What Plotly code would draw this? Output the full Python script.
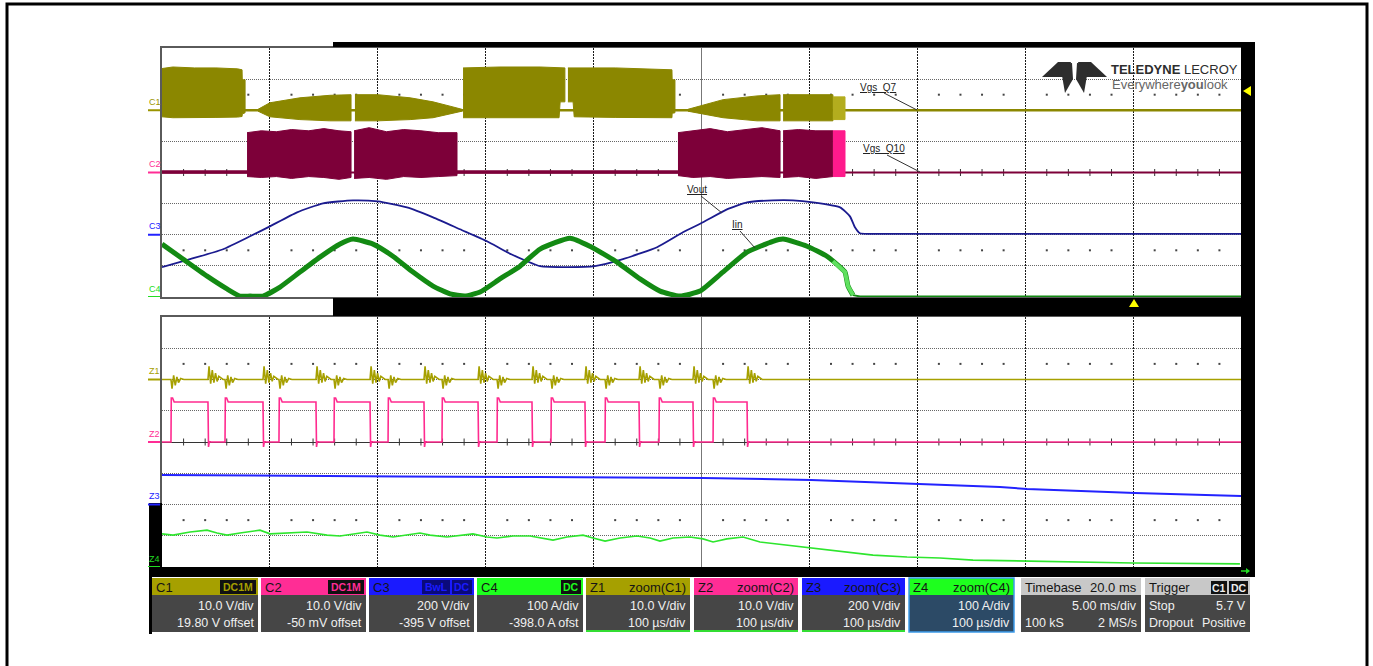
import plotly.graph_objects as go

W, H = 1373, 666
FONT = "Liberation Sans"

# ======================= DATA =======================
# ---- acquisition grid: 5 ms/div, x in ms (0..50) ----
ch_scale = {"C1": 10.0, "C2": 10.0, "C3": 200.0, "C4": 100.0}
ch_pos = {"C1": 2.0, "C2": 0.0, "C3": -2.0, "C4": -4.0}

# C1 = Vgs_Q7 [V]: envelope of the PWM bursts (None separates bursts)
c1_env_t = [0.0, 0.5, 1.5, 2.5, 3.5, 3.71, 3.72, 3.85, None,
            4.45, 5.0, 6.39, 7.78, 8.76, None,
            8.94, 10.0, 11.5, 12.56, 13.35, 13.9, None,
            13.95, 15.66, 17.52, 18.4, 18.45, 18.67, None,
            18.81, 19.05, 19.1, 21.0, 23.63, 23.64, 23.77, None,
            24.37, 26.0, 27.57, 28.64, None,
            28.78, 30.0, 31.09]
c1_env_top = [13.4, 13.9, 13.6, 13.6, 13.3, 13.0, 9.8, 9.8, None,
              0.3, 2.4, 4.0, 4.8, 5.0, None,
              5.0, 5.0, 4.0, 2.7, 1.3, 0.3, None,
              13.6, 13.9, 13.9, 13.8, 13.8, 13.6, None,
              13.6, 13.6, 13.6, 13.6, 13.0, 9.8, 9.8, None,
              0.3, 3.4, 4.6, 5.0, None,
              5.0, 5.0, 5.0]
c1_env_bot = [-2.1, -2.4, -2.4, -2.3, -2.2, -2.0, -1.2, -0.8, None,
              -0.3, -2.1, -3.0, -3.4, -3.4, None,
              -3.4, -3.4, -3.0, -2.4, -1.2, -0.3, None,
              -2.4, -2.4, -2.4, -2.4, 2.7, 2.7, None,
              2.7, 2.7, -2.1, -2.3, -2.4, -1.0, -0.8, None,
              -0.3, -2.4, -3.4, -3.4, None,
              -3.4, -3.4, -3.4]
c1_flash_t = [31.09, 31.65]
c1_flash_top = [4.3, 4.3]
c1_flash_bot = [-3.0, -3.0]
c1_base_t = [0.0, 50.0]
c1_base_v = [0.0, 0.0]

# C2 = Vgs_Q10 [V]
c2_env_t = [3.94, 4.6, 5.3, 6.0, 6.8, 7.5, 8.2, 8.76, None,
            8.9, 9.6, 10.4, 11.2, 12.0, 12.8, 13.67, None,
            23.91, 24.6, 25.4, 26.2, 27.0, 27.8, 28.64, None,
            28.78, 29.5, 30.3, 31.09]
c2_env_top = [12.8, 13.4, 13.1, 13.8, 13.4, 14.1, 13.4, 13.1, None,
              13.4, 14.4, 13.1, 13.8, 13.4, 12.8, 12.8, None,
              12.8, 13.4, 14.1, 13.1, 13.8, 14.4, 13.4, None,
              13.4, 13.8, 13.4, 13.4]
c2_env_bot = [-1.3, -1.6, -1.3, -1.9, -1.3, -1.6, -2.2, -1.6, None,
              -1.9, -1.6, -2.2, -1.3, -1.6, -1.3, -1.0, None,
              -1.0, -1.6, -1.3, -1.9, -1.6, -1.3, -1.6, None,
              -1.6, -1.3, -1.9, -1.3]
c2_flash_t = [31.09, 31.65]
c2_flash_top = [13.4, 13.4]
c2_flash_bot = [-1.3, -1.3]
c2_noise_t = [0.0, 3.94, None, 13.67, 23.91]
c2_noise_v = [0.2, 0.2, None, 0.2, 0.2]
c2_base_t = [0.0, 50.0]
c2_base_v = [0.0, 0.0]

# C3 = Vout [V]
c3_t = [0, 1.30, 2.83, 4.08, 5.00, 6.26, 7.46, 8.85, 10.01, 11.35, 12.56, 13.81,
        15.06, 15.99, 16.91, 17.52, 18.81, 20.06, 21.36, 22.94, 24.14, 25.07,
        26.18, 27.11, 28.31, 29.24, 30.17, 31.42, 31.88, 32.11, 32.34, 32.81, 50]
c3_v = [-208, -157, -93, -10, 54, 144, 202, 221, 214, 176, 112, 35,
        -42, -112, -170, -202, -208, -202, -157, -80, 16, 80,
        163, 208, 221, 221, 208, 176, 118, 48, 10, 6, 6]

# C4 = Iin [A] (thick while converter runs, thin once it stops)
c4_t = [0, 0.97, 2.09, 3.01, 3.61, 4.08, 4.68, 5.47, 6.39, 7.32, 8.25, 8.85,
        9.78, 10.70, 11.63, 12.56, 13.35, 14.04, 14.74, 15.66, 16.59, 17.52,
        18.91, 19.83, 21.08, 22.15, 23.08, 24.00, 24.93, 25.99, 27.11, 28.31,
        28.78, 29.89, 30.81, 31.42, 31.65, 31.79, 32.02]
c4_v = [170, 122, 67, 26, 3, 3, 3, 32, 80, 128, 170, 186,
        170, 131, 80, 35, 10, 3, 16, 58, 99, 154,
        189, 163, 112, 58, 19, 3, 19, 80, 144, 179,
        186, 163, 131, 96, 80, 35, 6]
c4_flash_t = [31.09, 31.42, 31.65, 31.79, 32.02]
c4_flash_v = [115, 96, 80, 35, 6]
c4_off_t = [32.02, 32.34, 50]
c4_off_v = [6, 2, 2]

# ---- zoom grid: 100 us/div, x in us (0..1000) ----
zm_scale = {"Z1": 10.0, "Z2": 10.0, "Z3": 200.0, "Z4": 100.0}
zm_pos = {"Z1": 2.0, "Z2": 0.0, "Z3": -2.0, "Z4": -4.0}

# Z2: gate pulses (edges in us) and levels in V
z2_rise_us = [8.3, 58.4, 108.4, 159.4, 209.5, 259.5, 310.5, 360.5, 410.6, 460.6, 510.7]
z2_fall_us = [42.6, 93.6, 142.7, 192.8, 242.8, 292.9, 342.9, 392.0, 442.1, 492.1, 542.2]
z2_high_v = 12.8
z2_overshoot_v = 14.1
z2_undershoot_v = -1.6

# Z1: ringing seen at each Z2 edge (offset in us, V)
z1_ring_rise_dt = [0, 1, 2.5, 4, 5.5, 7, 9, 12]
z1_ring_rise_v = [0, -2.9, 1.3, -1.9, 0.8, -1.0, 0.3, 0]
z1_ring_fall_dt = [0, 1, 2.5, 4, 5.5, 7, 8.5, 10, 14]
z1_ring_fall_v = [0, 4.2, -1.3, 3.0, -1.0, 2.0, -0.6, 1.0, 0]

# Z3 = Vout zoom [V]
z3_t = [0, 127.9, 220.6, 350.3, 501.4, 601.5, 684, 721, 776.6, 801.7, 850.8, 901.8, 1000]
z3_v = [189, 182, 179, 176, 170, 157, 138, 125, 112, 99, 86, 74, 54]

# Z4 = Iin zoom [A]
z4_t = [0, 10.2, 26, 41.7, 51, 60.2, 72.3, 90.8, 100.1, 118.6, 134.4, 152.9, 165, 190,
        202, 214.1, 239.1, 248.4, 264.1, 288.2, 301.2, 310.5, 325.3, 341.1, 350.3, 362.4,
        375.3, 390.2, 399.4, 410.6, 424.5, 440.2, 452.3, 461.5, 473.6, 489.3, 501.4, 510.7,
        523.6, 538.5, 554.2, 579.2, 600.6, 628.4, 659, 690.5, 721, 751.6, 801.7, 844.3,
        899.9, 999]
z4_v = [106, 102, 112, 118, 109, 102, 109, 118, 106, 109, 112, 102, 99, 112,
        102, 96, 109, 102, 96, 106, 96, 93, 99, 99, 93, 86,
        96, 102, 93, 83, 93, 99, 93, 83, 93, 96, 90, 80,
        90, 96, 80, 70, 61, 48, 38, 32, 29, 22, 19, 16,
        13, 10]

# ---- info panel text ----
panel_names = ["C1", "C2", "C3", "C4", "Z1", "Z2", "Z3", "Z4"]
panel_right = ["", "", "", "", "zoom(C1)", "zoom(C2)", "zoom(C3)", "zoom(C4)"]
panel_line1 = ["10.0 V/div", "10.0 V/div", "200 V/div", "100 A/div",
               "10.0 V/div", "10.0 V/div", "200 V/div", "100 A/div"]
panel_line2 = ["19.80 V offset", "-50 mV offset", "-395 V offset", "-398.0 A ofst",
               "100 µs/div", "100 µs/div", "100 µs/div", "100 µs/div"]
panel_badges = [["DC1M"], ["DC1M"], ["BwL", "DC"], ["DC"], [], [], [], []]
timebase_text = ["Timebase", "20.0 ms", "5.00 ms/div", "100 kS", "2 MS/s"]
trigger_text = ["Trigger", "Stop", "5.7 V", "Dropout", "Positive"]
trigger_badges = ["C1", "DC"]

# ======================= STYLE =======================
COL = {"C1": "#8b8700", "C2": "#7d0039", "C3": "#1b1b8f", "C4": "#138a13",
       "Z1": "#a6a000", "Z2": "#ff2b8f", "Z3": "#2323ff", "Z4": "#2ee62e"}
HEAD = {"C1": "#a6a000", "C2": "#ff2d95", "C3": "#1a1aff", "C4": "#1eff1e",
        "Z1": "#a6a000", "Z2": "#ff2d95", "Z3": "#1a1aff", "Z4": "#1eff1e"}
LABEL = {"C1": "#9a9400", "C2": "#ff2d95", "C3": "#2323ff", "C4": "#22dd22",
         "Z1": "#a6a000", "Z2": "#ff2d95", "Z3": "#2323ff", "Z4": "#22dd22"}


def to_div(vals, scale, pos):
    return [None if v is None else pos + v / scale for v in vals]


def polys(t, top, bot, scale, pos):
    xs, ys, seg = [], [], []
    segs = []
    for i, x in enumerate(t):
        if x is None:
            segs.append(seg)
            seg = []
        else:
            seg.append(i)
    segs.append(seg)
    for s in segs:
        st = [t[i] for i in s]
        xs += st + st[::-1] + [None]
        ys += to_div([top[i] for i in s] + [bot[i] for i in s][::-1], scale, pos) + [None]
    return xs, ys


fig = go.Figure()

# ---- decorative grid marks (sub-division dots and centre-line ticks) ----
top_minor = [i * 1.0 for i in range(1, 50) if i % 5]
bot_minor = [i * 20.0 for i in range(1, 50) if i % 5]
for xs, xa, ya in [(top_minor, "x", "y"), (bot_minor, "x2", "y2")]:
    fig.add_trace(go.Scatter(x=xs * 2, y=[2.5] * len(xs) + [-2.5] * len(xs), mode="markers",
                             marker=dict(symbol="square", size=2, color="#444"),
                             xaxis=xa, yaxis=ya, hoverinfo="skip"))
    fig.add_trace(go.Scatter(x=xs, y=[0] * len(xs), mode="markers",
                             marker=dict(symbol="line-ns", size=5, line=dict(width=1, color="#333")),
                             xaxis=xa, yaxis=ya, hoverinfo="skip"))

# ---- top grid traces ----
s, p = ch_scale["C2"], ch_pos["C2"]
fig.add_trace(go.Scatter(x=c2_base_t, y=to_div(c2_base_v, s, p), mode="lines",
                         line=dict(color=COL["C2"], width=2), hoverinfo="skip"))
fig.add_trace(go.Scatter(x=c2_noise_t, y=to_div(c2_noise_v, s, p), mode="lines",
                         line=dict(color=COL["C2"], width=3.5), hoverinfo="skip"))
x, y = polys(c2_env_t, c2_env_top, c2_env_bot, s, p)
fig.add_trace(go.Scatter(x=x, y=y, mode="lines", fill="toself", fillcolor=COL["C2"],
                         line=dict(color=COL["C2"], width=1), hoverinfo="skip"))
x, y = polys(c2_flash_t, c2_flash_top, c2_flash_bot, s, p)
fig.add_trace(go.Scatter(x=x, y=y, mode="lines", fill="toself", fillcolor="#ff1a8c",
                         line=dict(color="#ff1a8c", width=1), hoverinfo="skip"))

s, p = ch_scale["C1"], ch_pos["C1"]
fig.add_trace(go.Scatter(x=c1_base_t, y=to_div(c1_base_v, s, p), mode="lines",
                         line=dict(color=COL["C1"], width=2.5), hoverinfo="skip"))
x, y = polys(c1_env_t, c1_env_top, c1_env_bot, s, p)
fig.add_trace(go.Scatter(x=x, y=y, mode="lines", fill="toself", fillcolor=COL["C1"],
                         line=dict(color=COL["C1"], width=1), hoverinfo="skip"))
x, y = polys(c1_flash_t, c1_flash_top, c1_flash_bot, s, p)
fig.add_trace(go.Scatter(x=x, y=y, mode="lines", fill="toself", fillcolor="#b3ad1e",
                         line=dict(color="#b3ad1e", width=1), hoverinfo="skip"))

fig.add_trace(go.Scatter(x=c3_t, y=to_div(c3_v, ch_scale["C3"], ch_pos["C3"]), mode="lines",
                         line=dict(color=COL["C3"], width=1.8, shape="spline", smoothing=0.5),
                         hoverinfo="skip"))
fig.add_trace(go.Scatter(x=c4_off_t, y=to_div(c4_off_v, ch_scale["C4"], ch_pos["C4"]), mode="lines",
                         line=dict(color=COL["C4"], width=2), hoverinfo="skip"))
fig.add_trace(go.Scatter(x=c4_t, y=to_div(c4_v, ch_scale["C4"], ch_pos["C4"]), mode="lines",
                         line=dict(color=COL["C4"], width=5, shape="spline", smoothing=0.5),
                         hoverinfo="skip"))
fig.add_trace(go.Scatter(x=c4_flash_t, y=to_div(c4_flash_v, ch_scale["C4"], ch_pos["C4"]),
                         mode="lines", line=dict(color="#5fe05f", width=4), hoverinfo="skip"))

# ---- zoom grid traces ----
z1_t, z1_v = [0.0], [0.0]
events = sorted([(t, 0) for t in z2_rise_us] + [(t, 1) for t in z2_fall_us])
for t0, kind in events:
    dts, vs = (z1_ring_rise_dt, z1_ring_rise_v) if kind == 0 else (z1_ring_fall_dt, z1_ring_fall_v)
    for dt, v in zip(dts, vs):
        z1_t.append(t0 + dt)
        z1_v.append(v)
z1_t.append(1000.0)
z1_v.append(0.0)

z2_t, z2_v = [0.0], [0.0]
for r, f in zip(z2_rise_us, z2_fall_us):
    z2_t += [r, r + 0.3, r + 1.5, r + 3.0, f, f + 0.5, f + 1.3, f + 2.5]
    z2_v += [0, z2_overshoot_v, z2_overshoot_v, z2_high_v, z2_high_v, z2_undershoot_v, 0.3, 0]
z2_t.append(1000.0)
z2_v.append(0.0)

fig.add_trace(go.Scatter(x=z4_t, y=to_div(z4_v, zm_scale["Z4"], zm_pos["Z4"]), mode="lines",
                         line=dict(color=COL["Z4"], width=1.6), xaxis="x2", yaxis="y2", hoverinfo="skip"))
fig.add_trace(go.Scatter(x=z3_t, y=to_div(z3_v, zm_scale["Z3"], zm_pos["Z3"]), mode="lines",
                         line=dict(color=COL["Z3"], width=2), xaxis="x2", yaxis="y2", hoverinfo="skip"))
fig.add_trace(go.Scatter(x=z2_t, y=to_div(z2_v, zm_scale["Z2"], zm_pos["Z2"]), mode="lines",
                         line=dict(color=COL["Z2"], width=1.6), xaxis="x2", yaxis="y2", hoverinfo="skip"))
fig.add_trace(go.Scatter(x=z1_t, y=to_div(z1_v, zm_scale["Z1"], zm_pos["Z1"]), mode="lines",
                         line=dict(color=COL["Z1"], width=1.6), xaxis="x2", yaxis="y2", hoverinfo="skip"))

# ======================= LAYOUT =======================
gx = [162 / W, 1241 / W]
common_x = dict(showticklabels=False, ticks="", zeroline=False, showgrid=True,
                gridcolor="#1a1a1a", griddash="2px,1px", gridwidth=1,
                showline=True, linecolor="#5a5a5a", linewidth=2, mirror=True, fixedrange=True)
common_y = dict(showticklabels=False, ticks="", range=[-4, 4], dtick=1, tick0=0,
                showgrid=True, gridcolor="#666666", griddash="1px,1px", gridwidth=1,
                zeroline=True, zerolinecolor="#333", zerolinewidth=1,
                showline=True, linecolor="#5a5a5a", linewidth=2, mirror=True, fixedrange=True)

fig.update_layout(
    width=W, height=H, margin=dict(l=0, r=0, t=0, b=0),
    paper_bgcolor="white", plot_bgcolor="rgba(0,0,0,0)", showlegend=False,
    xaxis=dict(domain=gx, range=[0, 50], dtick=5, tick0=0, anchor="y", **common_x),
    yaxis=dict(domain=[1 - 297 / H, 1 - 48 / H], anchor="x", **common_y),
    xaxis2=dict(domain=gx, range=[0, 1000], dtick=100, tick0=0, anchor="y2", **common_x),
    yaxis2=dict(domain=[1 - 567 / H, 1 - 317 / H], anchor="x2", **common_y),
    xaxis3=dict(domain=[0, 1], range=[0, W], visible=False, anchor="y3", fixedrange=True),
    yaxis3=dict(domain=[0, 1], range=[H, 0], visible=False, anchor="x3", fixedrange=True),
)

shapes, annos = [], []


def rect(x0, y0, x1, y1, fill, lc=None, lw=0):
    shapes.append(dict(type="rect", xref="x3", yref="y3", x0=x0, y0=y0, x1=x1, y1=y1,
                       fillcolor=fill, line=dict(width=lw, color=lc or fill), layer="above"))


def path(d, fill, lc=None, lw=0):
    shapes.append(dict(type="path", xref="x3", yref="y3", path=d, fillcolor=fill,
                       line=dict(width=lw, color=lc or fill), layer="above"))


def seg(x0, y0, x1, y1, color, w=1):
    shapes.append(dict(type="line", xref="x3", yref="y3", x0=x0, y0=y0, x1=x1, y1=y1,
                       line=dict(color=color, width=w), layer="above"))


def txt(x, y, s, size=12, color="#111", anchor="left", family=FONT):
    annos.append(dict(xref="x3", yref="y3", x=x, y=y, text=s, showarrow=False,
                      xanchor=anchor, yanchor="middle", borderpad=0,
                      font=dict(family=family, size=size, color=color)))


# centre vertical lines (solid grey)
for xa, ya, xc in [("x", "y", 25), ("x2", "y2", 500)]:
    shapes.append(dict(type="line", xref=xa, yref=ya, x0=xc, x1=xc, y0=-4, y1=4,
                       line=dict(color="#777", width=1), layer="between"))

# outer border
rect(7, 4, 1367, 672, "rgba(0,0,0,0)", "black", 3)
# black scope frame
rect(333, 42, 1255, 47, "black")
rect(1241, 42, 1255, 577, "black")
rect(333, 298, 1255, 316, "black")
rect(149, 567, 1255, 577, "black")
rect(149, 503, 162, 577, "black")
rect(149, 567, 152, 634, "black")

# trigger markers
path("M 1243,91 L 1251,86 L 1251,96 Z", "#ffff00")
path("M 1129,307 L 1134,299 L 1139,307 Z", "#ffff00")
seg(1241, 571, 1249, 571, "#22dd22", 1.5)
path("M 1246,568 L 1250,571 L 1246,574 Z", "#22dd22")

# channel labels + ground markers on the left
for name, ya, pos in [("C1", "y", ch_pos["C1"]), ("C2", "y", ch_pos["C2"]),
                      ("C3", "y", ch_pos["C3"]), ("C4", "y", ch_pos["C4"]),
                      ("Z1", "y2", zm_pos["Z1"]), ("Z2", "y2", zm_pos["Z2"]),
                      ("Z3", "y2", zm_pos["Z3"]), ("Z4", "y2", zm_pos["Z4"])]:
    annos.append(dict(xref="paper", yref=ya, x=148 / W, y=pos + 0.27, text=name, showarrow=False,
                      xanchor="left", yanchor="middle", borderpad=0,
                      font=dict(family=FONT, size=9, color=LABEL[name])))
    shapes.append(dict(type="line", xref="paper", yref=ya, x0=148 / W, x1=160 / W, y0=pos, y1=pos,
                       line=dict(color=LABEL[name], width=2), layer="above"))

# trace annotations with leader lines
for s_, tx, ty, lx0, ly0, lx1, ly1 in [("Vgs_Q7", 878, 87, 884, 93, 917, 110),
                                       ("Vgs_Q10", 884, 148, 887, 155, 920, 172),
                                       ("Vout", 697, 189, 701, 196, 722, 213),
                                       ("Iin", 737, 224, 740, 231, 755, 248)]:
    txt(tx, ty, "<u>" + s_ + "</u>", 10, "#222", "center")
    seg(lx0, ly0, lx1, ly1, "#333", 1)

# Teledyne LeCroy logo
path("M 1042,77 L 1058,62 L 1071,62 L 1066,77 Z", "#2d2d2d")
path("M 1107,77 L 1091,62 L 1078,62 L 1083,77 Z", "#2d2d2d")
path("M 1060,64 L 1072,63 L 1073,79 L 1065,93 Z", "#2d2d2d")
path("M 1089,64 L 1077,63 L 1076,79 L 1084,93 Z", "#2d2d2d")
txt(1110, 69, "<b>TELEDYNE</b> LECROY", 13, "#2d2d2d")
txt(1111, 84, "Everywhere<b>you</b>look", 13, "#666")

# info panel
boxes = [(152, 258), (261, 366), (369, 474), (477, 583), (586, 690), (694, 798), (802, 905), (909, 1014)]
for i, (x0, x1) in enumerate(boxes):
    name = panel_names[i]
    selected = name == "Z4"
    rect(x0, 578, x1, 595, HEAD[name])
    rect(x0, 595, x1, 632, "#2c4a66" if selected else "#464646")
    if selected:
        rect(x0, 578, x1, 632, "rgba(0,0,0,0)", "#3d9be9", 1.5)
    if name.startswith("Z") and not selected:
        seg(x0, 631, x1, 631, "#33dd33", 2)
    txt(x0 + 3, 587, name, 13, "#151515")
    if panel_right[i]:
        txt(x1 - 3, 587, panel_right[i], 13, "#151515", "right")
    bx = x1 - 2
    for b in panel_badges[i][::-1]:
        wdt = 8 * len(b) + 4
        rect(bx - wdt, 580, bx, 594, "#111" if name != "C3" else "#0a0a7a")
        txt(bx - wdt / 2, 587, "<b>" + b + "</b>", 10.5, HEAD[name], "center")
        bx -= wdt + 2
    txt(x1 - 3, 606, panel_line1[i], 12.5, "#f0f0f0", "right")
    txt(x1 - 3, 623, panel_line2[i], 12.5, "#f0f0f0", "right")

# timebase
x0, x1 = 1021, 1141
rect(x0, 578, x1, 595, "#c8c8c8")
rect(x0, 595, x1, 632, "#464646")
txt(x0 + 3, 587, timebase_text[0], 13, "#151515")
txt(x1 - 3, 587, timebase_text[1], 13, "#151515", "right")
txt(x1 - 3, 606, timebase_text[2], 12.5, "#f0f0f0", "right")
txt(x0 + 3, 623, timebase_text[3], 12.5, "#f0f0f0")
txt(x1 - 3, 623, timebase_text[4], 12.5, "#f0f0f0", "right")

# trigger
x0, x1 = 1145, 1250
rect(x0, 578, x1, 595, "#c8c8c8")
rect(x0, 595, x1, 632, "#464646")
txt(x0 + 3, 587, trigger_text[0], 13, "#151515")
rect(1211, 581, 1227, 594, "#111")
txt(1219, 587.5, "<b>" + trigger_badges[0] + "</b>", 10.5, "#eee", "center")
rect(1229, 581, 1248, 594, "#111")
txt(1238.5, 587.5, "<b>" + trigger_badges[1] + "</b>", 10.5, "#eee", "center")
txt(x0 + 3, 606, trigger_text[1], 12.5, "#f0f0f0")
txt(x1 - 3, 606, trigger_text[2], 12.5, "#f0f0f0", "right")
txt(x0 + 3, 623, trigger_text[3], 12.5, "#f0f0f0")
txt(x1 - 3, 623, trigger_text[4], 12.5, "#f0f0f0", "right")

fig.update_layout(shapes=shapes, annotations=annos)
fig.write_html("out.html", config={"displayModeBar": False},
               post_script="document.body.style.margin='0';document.body.style.overflow='hidden';")
